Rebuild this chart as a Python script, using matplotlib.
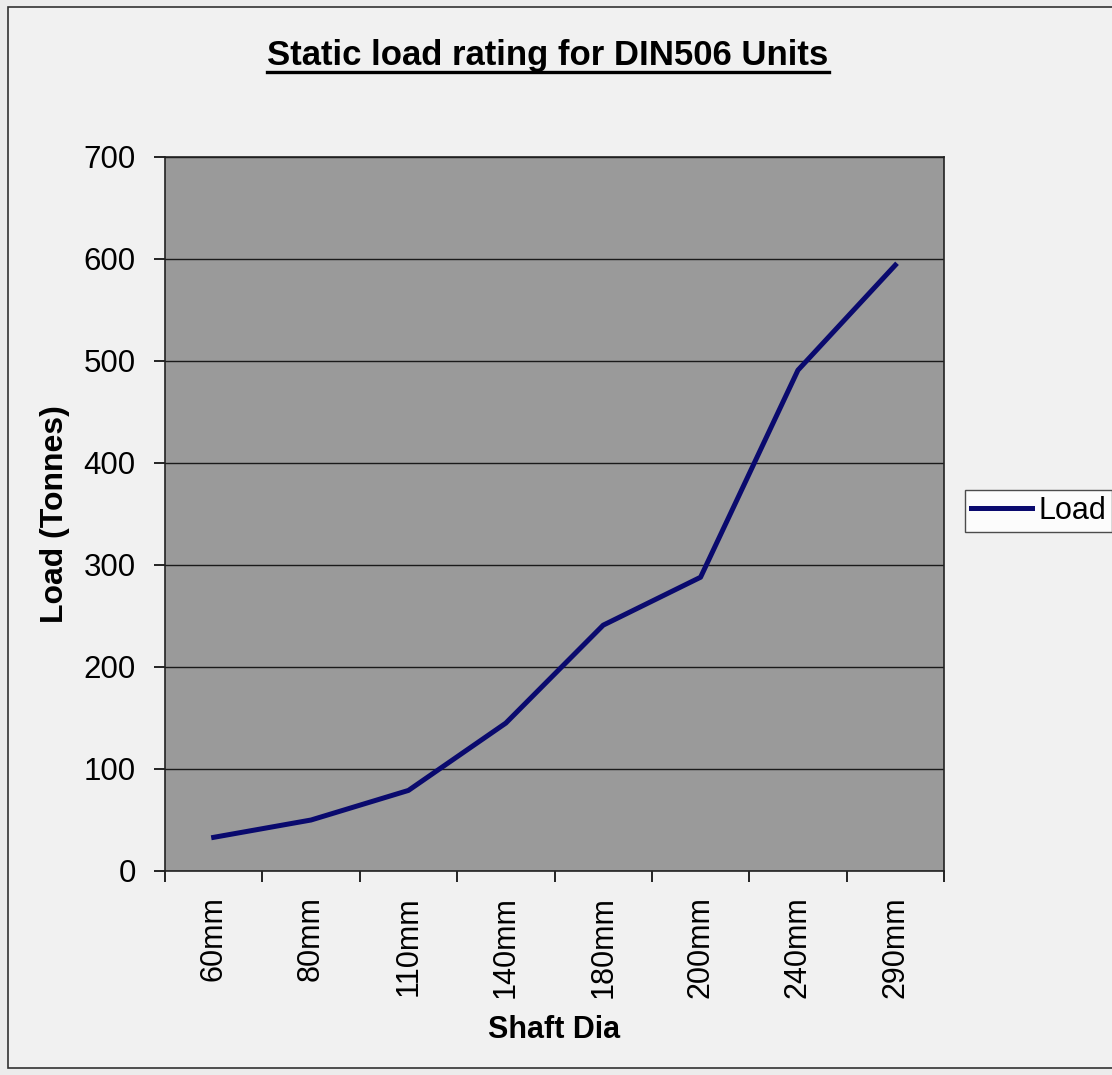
import numpy as np
import matplotlib
matplotlib.use("Agg")
import matplotlib.pyplot as plt
from matplotlib.lines import Line2D
from matplotlib.patches import Rectangle

plt.rcParams['font.family'] = ['Liberation Sans', 'DejaVu Sans']

# data
shaft_dia = ["60mm", "80mm", "110mm", "140mm", "180mm", "200mm", "240mm", "290mm"]
load_tonnes = [33, 50, 79, 145, 241, 288, 491, 594]
y_ticks = [0, 100, 200, 300, 400, 500, 600, 700]

W, H = 1112, 1075
fig = plt.figure(figsize=(W / 100, H / 100), dpi=100)
fig.patch.set_facecolor('#ececec')

# outer chart frame (right side runs off the page)
fig.add_artist(Rectangle((8 / W, 1 - 1068 / H), 1.2, (1068 - 7) / H,
                         transform=fig.transFigure, facecolor='#f1f1f1',
                         edgecolor='#333333', linewidth=1.2, zorder=0))

ax = fig.add_axes([165 / W, 1 - 871 / H, (944 - 165) / W, (871 - 157) / H])
ax.set_facecolor('#9a9a9a')

x = np.arange(len(shaft_dia))
ax.plot(x, load_tonnes, color='#0a0a6e', linewidth=3.6, label='Load',
        solid_joinstyle='round', zorder=3)

ax.set_xlim(-0.5, len(shaft_dia) - 0.5)
ax.set_ylim(0, 700)
ax.set_yticks(y_ticks)
ax.set_yticklabels([str(v) for v in y_ticks])
ax.yaxis.grid(True, color='#1a1a1a', linewidth=1.0)
ax.set_axisbelow(True)

ax.set_xticks(x)
ax.set_xticklabels(shaft_dia, rotation=90, va='top', ha='center')
ax.set_xticks(np.arange(-0.5, len(shaft_dia)), minor=True)
ax.tick_params(axis='x', which='major', length=0, pad=18, labelsize=22)
ax.tick_params(axis='x', which='minor', length=8, width=1.2, direction='out')
ax.tick_params(axis='y', length=8, width=1.2, direction='out', pad=13,
               labelsize=22.5)

for s in ax.spines.values():
    s.set_color('#222222')
    s.set_linewidth(1.2)

ax.set_ylabel("Load (Tonnes)", fontsize=23, fontweight='bold', labelpad=10)
ax.set_xlabel("Shaft Dia", fontsize=22, fontweight='bold', labelpad=12)

t = fig.text(548 / W, 1 - 56 / H, "Static load rating for DIN506 Units",
             fontsize=25, fontweight='bold', ha='center', va='center')

leg = fig.legend(loc='center left', bbox_to_anchor=(965 / W, 1 - 511 / H),
                 fontsize=22, frameon=True, fancybox=False, handlelength=2.0,
                 handletextpad=0.2, borderpad=0.2, borderaxespad=0)
leg.get_frame().set_edgecolor('#222222')
leg.get_frame().set_linewidth(1.0)
leg.get_frame().set_facecolor('white')

# underline the title
fig.canvas.draw()
bb = t.get_window_extent(fig.canvas.get_renderer())
yl = (bb.y0 + 1) / H
fig.add_artist(Line2D([bb.x0 / W, bb.x1 / W], [yl, yl], color='black',
                      linewidth=2.4, transform=fig.transFigure))

fig.savefig("out.png", dpi=100, facecolor=fig.get_facecolor())
